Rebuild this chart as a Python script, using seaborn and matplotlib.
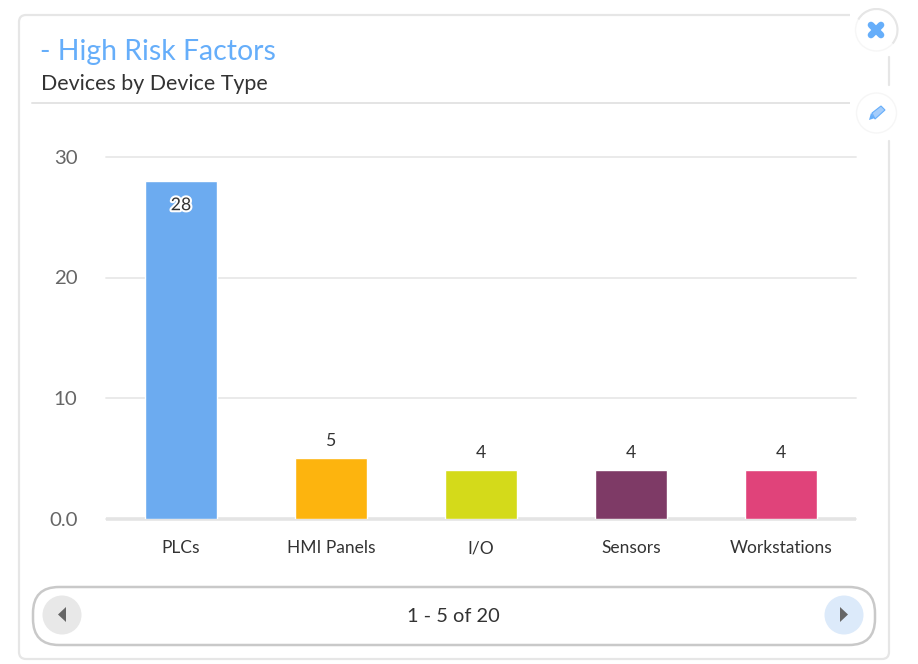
import matplotlib
matplotlib.use('Agg')
import matplotlib.pyplot as plt
import matplotlib.patheffects as pe
from matplotlib.patches import FancyBboxPatch, Circle, Polygon, Rectangle, Arc
import pandas as pd
import seaborn as sns

categories = ['PLCs', 'HMI Panels', 'I/O', 'Sensors', 'Workstations']
values = [28, 5, 4, 4, 4]
bar_colors = ['#6CABF0', '#FDB40E', '#D4DA1A', '#7E3A66', '#E0437A']
y_ticks = [0, 10, 20, 30]
y_tick_labels = ['0.0', '10', '20', '30']

sns.set_theme(style='white')
plt.rcParams['font.family'] = ['Lato', 'DejaVu Sans']

W, H = 918, 664
fig = plt.figure(figsize=(W / 100, H / 100), dpi=100, facecolor='white')

# page furniture in pixel coords, sits behind the chart
bg = fig.add_axes([0, 0, 1, 1], zorder=0)
bg.set_xlim(0, W)
bg.set_ylim(H, 0)
bg.axis('off')
bg.add_patch(FancyBboxPatch((19, 15), 870, 644, boxstyle='round,pad=0,rounding_size=7',
                            fc='white', ec='#E6E6E6', lw=1.6))
bg.plot([32, 876], [103, 103], color='#E4E4E4', lw=1.4)
bg.text(40, 52, '- High Risk Factors', color='#66AEFA', fontsize=20.4, va='center')
bg.text(41, 84, 'Devices by Device Type', color='#333333', fontsize=15.4, va='center')

# side buttons
bg.add_patch(Rectangle((850, 0), 50, 170, fc='white', ec='none', zorder=2))
bg.plot([889, 889], [57, 85], color='#E6E6E6', lw=1.6, zorder=3)
bg.plot([889, 889], [141, 170], color='#E6E6E6', lw=1.6, zorder=3)
bg.add_patch(Circle((876.5, 30), 21, fc='white', ec='#F6F6F6', lw=1, zorder=3))
bg.add_patch(Arc((876.5, 30), 42, 42, theta1=-150, theta2=40, ec='#E6E6E6', lw=1.5, zorder=3))
bg.add_patch(Circle((876.5, 113), 20, fc='white', ec='#F6F6F6', lw=1, zorder=3))
bg.plot([871, 881], [25, 35], color='#66AEFA', lw=4.8, zorder=4, solid_capstyle='round')
bg.plot([871, 881], [35, 25], color='#66AEFA', lw=4.8, zorder=4, solid_capstyle='round')
bg.add_patch(Polygon([[872, 113], [881, 106], [885, 110], [875, 119]], fc='#A5CDFB', ec='#66AEFA', lw=0.8, zorder=4))
bg.add_patch(Polygon([[869, 120], [871, 113], [875, 118]], fc='#66AEFA', ec='none', zorder=4))

# pager
bg.add_patch(FancyBboxPatch((33, 587), 842, 58, boxstyle='round,pad=0,rounding_size=26',
                            fc='white', ec='#C9C9C9', lw=1.8))
bg.add_patch(Circle((62, 615), 19.5, fc='#E8E8E8', ec='none'))
bg.add_patch(Circle((844, 615), 19.5, fc='#DCEAFA', ec='none'))
bg.add_patch(Polygon([[66, 607], [66, 622], [58, 614.5]], fc='#666666', ec='none'))
bg.add_patch(Polygon([[840, 607], [840, 622], [848, 614.5]], fc='#666666', ec='none'))
bg.text(453, 617, '1 - 5 of 20', color='#333333', fontsize=14.4, ha='center', va='center')

df = pd.DataFrame({'category': categories, 'value': values})

ax = fig.add_axes([106 / W, 1 - 518.5 / H, 750 / W, 361.5 / H], zorder=1)
ax.patch.set_alpha(0)
sns.barplot(data=df, x='category', y='value', hue='category', palette=bar_colors,
            order=categories, hue_order=categories, legend=False, width=0.485,
            saturation=1, ax=ax, zorder=3)
ax.set_xlim(-0.5, 4.5)
ax.set_ylim(0, 30)
ax.set_xlabel('')
ax.set_ylabel('')
ax.set_yticks(y_ticks)
ax.set_yticklabels(y_tick_labels, color='#666666', fontsize=14.7)
ax.tick_params(axis='y', length=0, pad=20.5)
ax.tick_params(axis='x', length=0, pad=15.5)
ax.set_xticks(range(len(categories)))
ax.set_xticklabels(categories, color='#333333', fontsize=12.5)
ax.grid(axis='y', color='#E8E8E8', lw=1.3, clip_on=False)
ax.set_axisbelow(True)
sns.despine(ax=ax, left=True, top=True, right=True)
ax.spines['bottom'].set_color('#E4E4E4')
ax.spines['bottom'].set_linewidth(2.6)
ax.spines['bottom'].set_capstyle('butt')

for i, v in enumerate(values):
    if v > 20:
        ax.text(i, v - 2.0, str(v), ha='center', va='center', color='#333333', fontsize=12.7,
                zorder=5, path_effects=[pe.withStroke(linewidth=3, foreground='white')])
    else:
        ax.text(i, v + 1.45, str(v), ha='center', va='center', color='#333333', fontsize=12.7, zorder=5)

fig.savefig('out.png', dpi=100, facecolor='white')
